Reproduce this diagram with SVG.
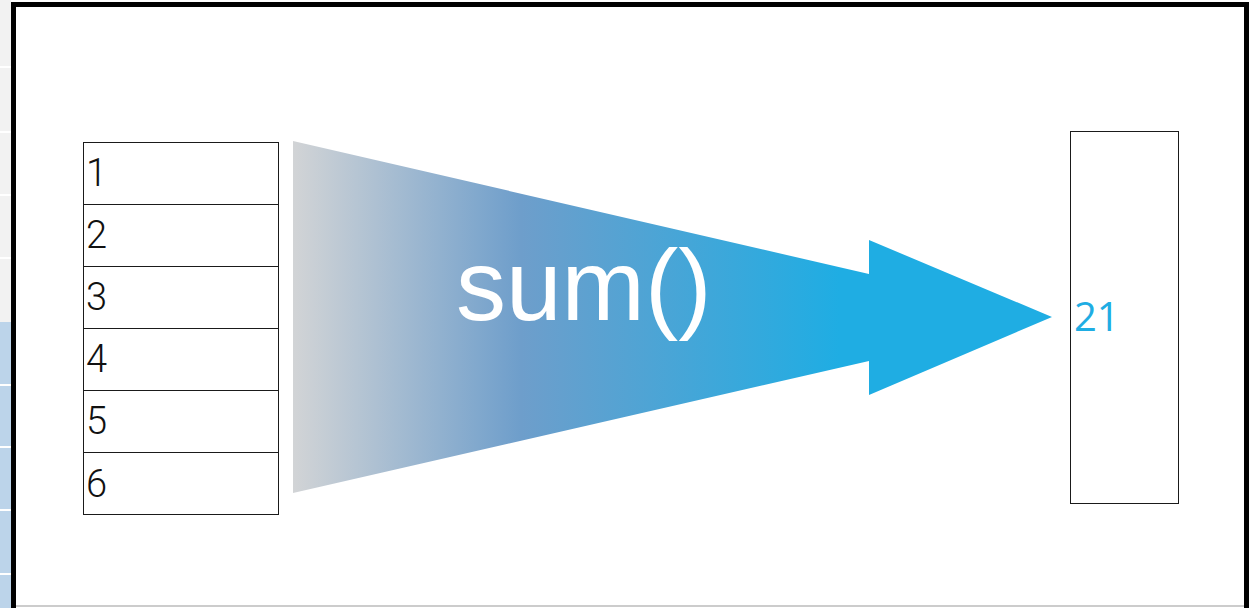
<svg xmlns="http://www.w3.org/2000/svg" width="1250" height="608" viewBox="0 0 1250 608">
  <defs>
    <linearGradient id="flow" gradientUnits="userSpaceOnUse" x1="293" y1="0" x2="1052" y2="0">
      <stop offset="0" stop-color="#d2d4d6"/>
      <stop offset="0.3" stop-color="#6e9ecb"/>
      <stop offset="0.72" stop-color="#1fade3"/>
      <stop offset="1" stop-color="#1fade3"/>
    </linearGradient>
    <style>
      .cell { fill: #ffffff; stroke: #1a1a1a; stroke-width: 1; }
      .num { font-family: Roboto, "Liberation Sans", sans-serif; font-weight: 300; font-size: 38px; fill: #111111; }
      .strip-gray { fill: #f2f2f2; }
      .strip-blue { fill: #bcd4ea; }
      .sep { stroke: #ffffff; stroke-width: 2; }
    </style>
  </defs>
  <rect x="0" y="0" width="1250" height="608" fill="#ffffff"/>
  <!-- left strip -->
  <g id="strip">
    <rect class="strip-gray" x="0" y="0" width="11" height="322"/>
    <rect class="strip-blue" x="0" y="322" width="11" height="286"/>
    <line class="sep" x1="0" y1="67" x2="11" y2="67"/>
    <line class="sep" x1="0" y1="132" x2="11" y2="132"/>
    <line class="sep" x1="0" y1="195" x2="11" y2="195"/>
    <line class="sep" x1="0" y1="258" x2="11" y2="258"/>
    <line class="sep" x1="0" y1="385" x2="11" y2="385"/>
    <line class="sep" x1="0" y1="447" x2="11" y2="447"/>
    <line class="sep" x1="0" y1="510" x2="11" y2="510"/>
    <line class="sep" x1="0" y1="574" x2="11" y2="574"/>
  </g>
  <!-- frame -->
  <g id="frame">
    <rect x="11" y="2" width="1239" height="606" fill="#ffffff"/>
    <rect x="11" y="2" width="5" height="606" fill="#000000"/>
    <rect x="11" y="2" width="1238" height="5" fill="#000000"/>
    <rect x="1244" y="2" width="5" height="606" fill="#000000"/>
    <line x1="16" y1="606" x2="1244" y2="606" stroke="#999999" stroke-width="1"/>
  </g>
  <!-- input vector -->
  <g id="input">
    <rect class="cell" x="83.5" y="142.5" width="195" height="62"/>
    <rect class="cell" x="83.5" y="204.5" width="195" height="62"/>
    <rect class="cell" x="83.5" y="266.5" width="195" height="62"/>
    <rect class="cell" x="83.5" y="328.5" width="195" height="62"/>
    <rect class="cell" x="83.5" y="390.5" width="195" height="62"/>
    <rect class="cell" x="83.5" y="452.5" width="195" height="62"/>
    <text class="num" x="86" y="186">1</text>
    <text class="num" x="86" y="248">2</text>
    <text class="num" x="86" y="310">3</text>
    <text class="num" x="86" y="372">4</text>
    <text class="num" x="86" y="434">5</text>
    <text class="num" x="86" y="497">6</text>
  </g>
  <!-- connector: funnel arrow -->
  <g id="connectors">
    <polygon points="293,141 869,274 869,240 1052,317 869,395 869,361 293,493" fill="url(#flow)"/>
    <text x="456" y="320" font-family="'Liberation Sans', Arial, sans-serif" font-size="100" fill="#ffffff">sum()</text>
  </g>
  <!-- output -->
  <g id="output">
    <rect class="cell" x="1070.5" y="131.5" width="108" height="372"/>
    <text x="1074" y="331" font-family="'Open Sans', 'Noto Sans', sans-serif" font-size="40" fill="#1fade3">21</text>
  </g>
</svg>
